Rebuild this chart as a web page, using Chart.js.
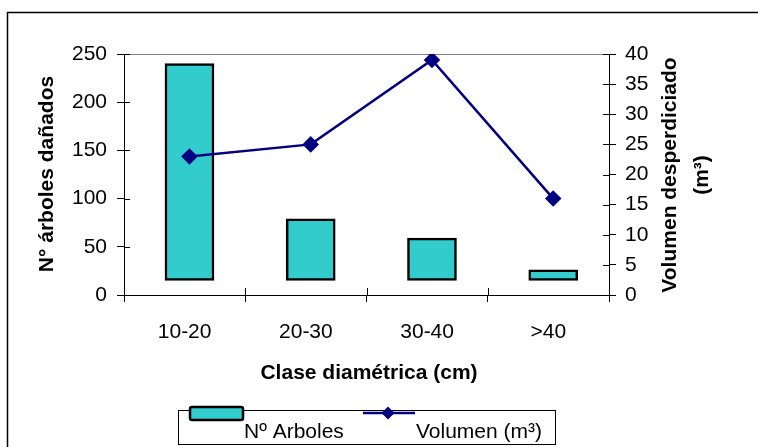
<!DOCTYPE html>
<html>
<head>
<meta charset="utf-8">
<script src="https://cdn.jsdelivr.net/npm/chart.js@4.4.1/dist/chart.umd.min.js"></script>
<style>
  html, body { margin: 0; padding: 0; background: #fff; }
</style>
</head>
<body>
<canvas id="grafico" width="758" height="447"></canvas>
<script>
// datos
const clases = ['10-20', '20-30', '30-40', '>40'];
const arboles = [240, 79, 59, 26];      // Nº arboles dañados (eje izq.)
const volumen = [23, 25, 39, 16];       // volumen desperdiciado m3 (eje der.)
const baseBarras = 15;                  // las barras arrancan en ~15, no en 0
const ticksArboles = [0, 50, 100, 150, 200, 250];
const ticksVolumen = [0, 5, 10, 15, 20, 25, 30, 35, 40];

const desfase = 0.04; // excel corre las marcas un poco a la derecha

Chart.defaults.font.family = '"Liberation Sans", Arial, sans-serif';
Chart.defaults.font.size = 21;
Chart.defaults.color = '#000';

const FUENTE = '"Liberation Sans", Arial, sans-serif';

// titulos, leyenda, marco y las marcas hacia dentro
const extras = {
  id: 'extras',
  beforeDatasetsDraw(chart) {
    const ctx = chart.ctx;
    const a = chart.chartArea;
    ctx.save();
    ctx.strokeStyle = '#808080';
    ctx.lineWidth = 1;
    ctx.beginPath();
    ctx.moveTo(a.left, Math.round(a.top) + 0.5);
    ctx.lineTo(a.right, Math.round(a.top) + 0.5);
    ctx.stroke();
    ctx.restore();
  },
  afterDraw(chart) {
    const ctx = chart.ctx;
    const s = chart.scales;
    ctx.save();

    // marco exterior (solo se ve arriba e izquierda)
    ctx.strokeStyle = '#000';
    ctx.lineWidth = 1.5;
    ctx.beginPath();
    ctx.moveTo(7.5, 447);
    ctx.lineTo(7.5, 12.5);
    ctx.lineTo(758, 12.5);
    ctx.stroke();

    // parte interior de las marcas
    ctx.lineWidth = 1;
    ctx.beginPath();
    s.y.ticks.forEach((t, i) => {
      const py = Math.round(s.y.getPixelForTick(i)) + 0.5;
      ctx.moveTo(s.y.right, py); ctx.lineTo(s.y.right + 6, py);
    });
    s.y1.ticks.forEach((t, i) => {
      const py = Math.round(s.y1.getPixelForTick(i)) + 0.5;
      ctx.moveTo(s.y1.left - 6, py); ctx.lineTo(s.y1.left, py);
    });
    for (let i = 1; i < clases.length; i++) {
      const px = Math.round(s.x.getPixelForValue(i - 0.5)) + 0.5;
      ctx.moveTo(px, s.x.top - 7); ctx.lineTo(px, s.x.top);
    }
    ctx.stroke();

    // titulos de ejes
    ctx.fillStyle = '#000';
    ctx.font = 'bold 21px ' + FUENTE;
    ctx.textAlign = 'center';
    ctx.textBaseline = 'middle';
    ctx.fillText('Clase diamétrica (cm)', 369, 373);

    ctx.save();
    ctx.translate(47, 174);
    ctx.rotate(-Math.PI / 2);
    ctx.fillText('N° árboles dañados', 0, 0);
    ctx.restore();

    ctx.save();
    ctx.translate(670, 175);
    ctx.rotate(-Math.PI / 2);
    ctx.fillText('Volumen desperdiciado', 0, 0);
    ctx.fillText('(m³)', 0, 32);
    ctx.restore();

    // leyenda
    const barras = chart.data.datasets[1];
    const linea = chart.data.datasets[0];
    ctx.strokeStyle = '#000';
    ctx.lineWidth = 1;
    ctx.strokeRect(178.5, 410.5, 377, 34);

    ctx.fillStyle = barras.backgroundColor;
    ctx.strokeStyle = barras.borderColor;
    ctx.lineWidth = 2.5;
    ctx.beginPath();
    ctx.roundRect(190, 407, 53, 13, 2);
    ctx.fill();
    ctx.stroke();

    ctx.strokeStyle = linea.borderColor;
    ctx.lineWidth = 2.5;
    ctx.beginPath();
    ctx.moveTo(363, 413);
    ctx.lineTo(415, 413);
    ctx.stroke();
    ctx.fillStyle = linea.borderColor;
    ctx.beginPath();
    ctx.moveTo(388, 406.5);
    ctx.lineTo(394.5, 413);
    ctx.lineTo(388, 419.5);
    ctx.lineTo(381.5, 413);
    ctx.closePath();
    ctx.fill();

    ctx.fillStyle = '#000';
    ctx.font = '21px ' + FUENTE;
    ctx.textAlign = 'left';
    ctx.textBaseline = 'alphabetic';
    ctx.fillText(barras.label, 244, 438);
    ctx.fillText(linea.label, 416, 438);

    ctx.restore();
  }
};

new Chart(document.getElementById('grafico'), {
  type: 'bar',
  data: {
    labels: clases,
    datasets: [
      {
        type: 'line',
        label: 'Volumen (m³)',
        data: volumen.map((v, i) => ({ x: i, y: v })),
        xAxisID: 'xd',
        yAxisID: 'y1',
        borderColor: '#000080',
        backgroundColor: '#000080',
        borderWidth: 2.5,
        pointStyle: 'rectRot',
        pointRadius: 6.5,
        pointHoverRadius: 6.5,
        tension: 0,
        order: 0
      },
      {
        type: 'bar',
        label: 'Nº Arboles',
        data: arboles.map((v, i) => ({ x: i, y: v })),
        base: baseBarras,
        xAxisID: 'xd',
        yAxisID: 'y',
        backgroundColor: '#33CCCC',
        borderColor: '#000',
        borderWidth: 2.5,
        borderSkipped: false,
        barThickness: 49,
        order: 1
      }
    ]
  },
  options: {
    responsive: false,
    devicePixelRatio: 1,
    animation: false,
    layout: { padding: { top: 54, left: 0, right: 0, bottom: 0 } },
    plugins: { legend: { display: false }, tooltip: { enabled: false } },
    scales: {
      x: {
        type: 'category',
        labels: clases,
        position: 'bottom',
        offset: true,
        grid: { offset: true, drawOnChartArea: false, tickLength: 7, color: '#000' },
        border: { color: '#000' },
        ticks: { padding: 18, color: '#000', maxRotation: 0 },
        afterFit(sc) { sc.height = 152; }
      },
      xd: {
        type: 'linear',
        display: false,
        offset: false,
        min: -0.5 - desfase,
        max: clases.length - 0.5 - desfase
      },
      y: {
        position: 'left',
        min: ticksArboles[0],
        max: ticksArboles[ticksArboles.length - 1],
        ticks: { stepSize: ticksArboles[1] - ticksArboles[0], padding: 10, color: '#000' },
        grid: { drawOnChartArea: false, tickLength: 7, color: '#000' },
        border: { color: '#000' },
        afterFit(sc) { sc.width = 124; }
      },
      y1: {
        position: 'right',
        min: ticksVolumen[0],
        max: ticksVolumen[ticksVolumen.length - 1],
        ticks: { stepSize: ticksVolumen[1] - ticksVolumen[0], padding: 9, color: '#000' },
        grid: { drawOnChartArea: false, tickLength: 7, color: '#000' },
        border: { color: '#000' },
        afterFit(sc) { sc.width = 149; }
      }
    }
  },
  plugins: [extras]
});
</script>
</body>
</html>
